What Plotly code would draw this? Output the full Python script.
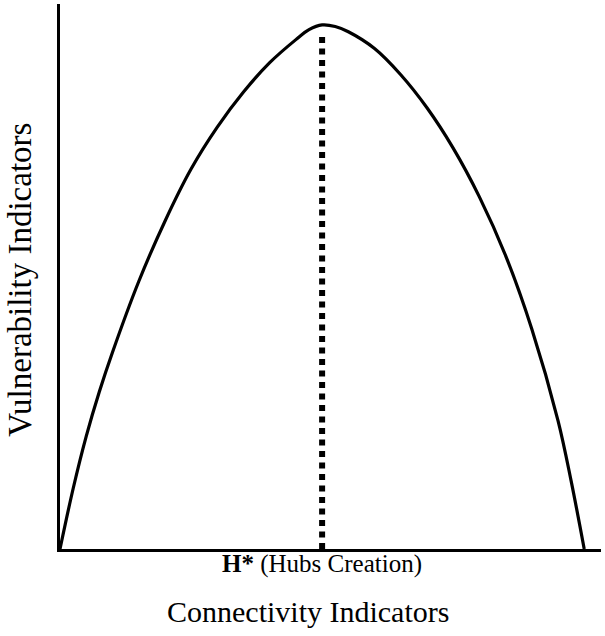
import plotly.graph_objects as go

# Curve (peak at H* = 5, height 10)
curve_x = [0, 0.25, 0.5, 0.75, 1.0, 1.5, 2.0, 2.5, 3.0, 3.5, 4.0, 4.5, 4.75, 5.0,
           5.25, 5.5, 6.0, 6.5, 7.0, 7.5, 8.0, 8.5, 9.0, 9.5, 9.75, 10.0]
curve_y = [0, 1.15, 2.15, 3.0, 3.75, 5.1, 6.25, 7.25, 8.05, 8.72, 9.28, 9.72, 9.91, 10.0,
           9.97, 9.87, 9.55, 9.05, 8.42, 7.65, 6.72, 5.6, 4.2, 2.45, 1.3, 0]

h_star_x = [5.0, 5.0]
h_star_y = [0, 9.85]

tick_vals = [5.0]
tick_text = ["<b>H*</b> (Hubs Creation)"]

x_title = "Connectivity Indicators"
y_title = "Vulnerability Indicators"

SERIF = "'Liberation Serif', 'Times New Roman', serif"

fig = go.Figure()
fig.add_trace(go.Scatter(x=h_star_x, y=h_star_y, mode="lines",
                         line=dict(color="black", width=6, dash="6px,5.5px"),
                         hoverinfo="skip", showlegend=False))
fig.add_trace(go.Scatter(x=curve_x, y=curve_y, mode="lines",
                         line=dict(color="black", width=3.2, shape="spline", smoothing=1.0),
                         showlegend=False))

annotations = [
    dict(text=tick_text[0], xref="x", yref="paper", x=tick_vals[0], y=0,
         yshift=-15, xanchor="center", yanchor="middle", showarrow=False,
         font=dict(family=SERIF, size=25, color="black")),
    dict(text=x_title, xref="paper", yref="paper", x=0.458, y=0,
         yshift=-62, xanchor="center", yanchor="middle", showarrow=False,
         font=dict(family=SERIF, size=30, color="black")),
    dict(text=y_title, xref="paper", yref="paper", x=0, y=0.494,
         xshift=-40, xanchor="center", yanchor="middle", textangle=-90,
         showarrow=False, font=dict(family=SERIF, size=33, color="black")),
]

fig.update_layout(
    width=605, height=636,
    margin=dict(l=60, r=4, t=4, b=87),
    paper_bgcolor="white", plot_bgcolor="white",
    xaxis=dict(range=[0, 10.32], showgrid=False, zeroline=False,
               showline=True, linecolor="black", linewidth=3,
               showticklabels=False, ticks=""),
    yaxis=dict(range=[0, 10.4], showgrid=False, zeroline=False,
               showline=True, linecolor="black", linewidth=3,
               showticklabels=False, ticks=""),
    annotations=annotations,
)

fig.write_html("out.html", config={"displayModeBar": False},
               post_script="document.body.style.margin='0';document.body.style.padding='0';")
